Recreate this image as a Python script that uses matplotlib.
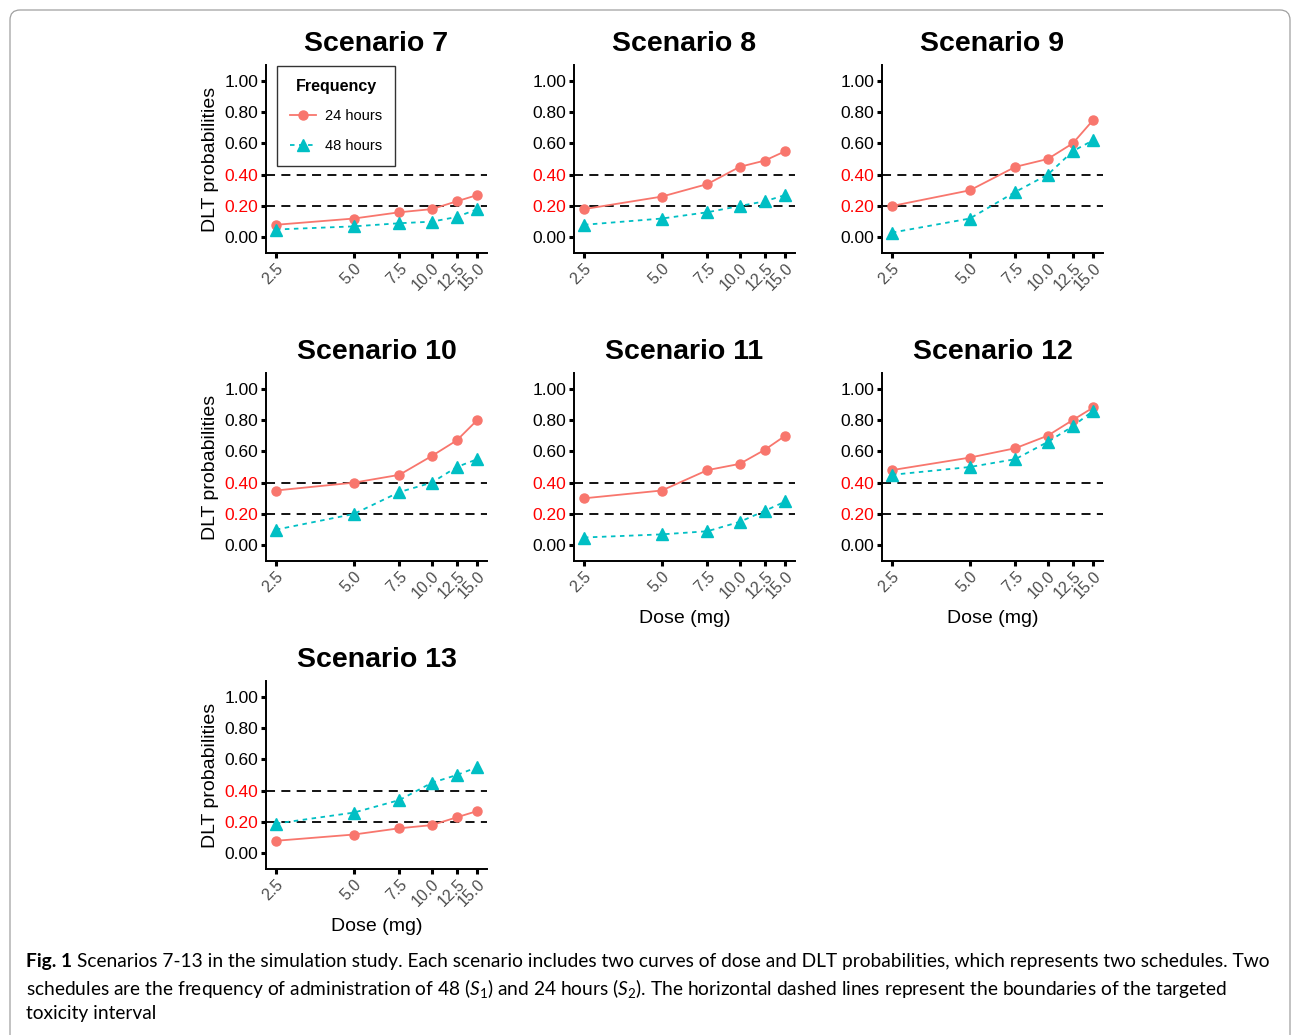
import matplotlib
matplotlib.use("Agg")
import matplotlib.pyplot as plt
from matplotlib.patches import FancyBboxPatch

plt.rcParams['font.family'] = ['Liberation Sans', 'DejaVu Sans']

# data
doses = [2.5, 5.0, 7.5, 10.0, 12.5, 15.0]
dose_labels = ['2.5', '5.0', '7.5', '10.0', '12.5', '15.0']
scenarios = [7, 8, 9, 10, 11, 12, 13]
p24 = [
    [0.08, 0.12, 0.16, 0.18, 0.23, 0.27],
    [0.18, 0.26, 0.34, 0.45, 0.49, 0.55],
    [0.20, 0.30, 0.45, 0.50, 0.60, 0.75],
    [0.35, 0.40, 0.45, 0.57, 0.67, 0.80],
    [0.30, 0.35, 0.48, 0.52, 0.61, 0.70],
    [0.48, 0.56, 0.62, 0.70, 0.80, 0.88],
    [0.08, 0.12, 0.16, 0.18, 0.23, 0.27],
]
p48 = [
    [0.05, 0.07, 0.09, 0.10, 0.13, 0.18],
    [0.08, 0.12, 0.16, 0.20, 0.23, 0.27],
    [0.03, 0.12, 0.29, 0.40, 0.55, 0.62],
    [0.10, 0.20, 0.34, 0.40, 0.50, 0.55],
    [0.05, 0.07, 0.09, 0.15, 0.22, 0.28],
    [0.45, 0.50, 0.55, 0.66, 0.76, 0.86],
    [0.19, 0.26, 0.34, 0.45, 0.50, 0.55],
]
yticks = [0.0, 0.2, 0.4, 0.6, 0.8, 1.0]
bounds = [0.2, 0.4]

W, H = 1292, 1035
fig = plt.figure(figsize=(W / 100, H / 100), dpi=100)

# border around the figure panel
fig.patches.append(FancyBboxPatch((10, -30), 1280, 1055, boxstyle="round,pad=0,rounding_size=10",
                                  transform=None, fc='none', ec='#a0a0a0', lw=0.9))

c24, c48 = '#F8766D', '#00BFC4'
ax_w, ax_h = 221, 188

for i, sc in enumerate(scenarios):
    r, c = divmod(i, 3)
    left = 266 + 308 * c
    top = 65 + 308 * r
    ax = fig.add_axes([left / W, 1 - (top + ax_h) / H, ax_w / W, ax_h / H])
    ax.set_xscale('log')
    ax.set_xlim(2.29, 16.35)
    ax.set_ylim(-0.1, 1.1)
    for b in bounds:
        ax.axhline(b, color='black', lw=1.3, dashes=(5, 3.5), zorder=1)
    ax.plot(doses, p24[i], color=c24, lw=1.3, marker='o', ms=6.5, label='24 hours', zorder=3)
    ax.plot(doses, p48[i], color=c48, lw=1.3, ls=(0, (2.5, 2.5)), marker='^', ms=8,
            label='48 hours', zorder=3)
    ax.set_xticks(doses)
    ax.xaxis.set_minor_locator(plt.NullLocator())
    ax.set_xticklabels(dose_labels, rotation=45, ha='right', va='top', rotation_mode='anchor',
                       fontsize=11.5, color='#4d4d4d')
    ax.set_yticks(yticks)
    ax.set_yticklabels(['%.2f' % v for v in yticks], fontsize=12.5)
    for v, lab, tk in zip(yticks, ax.get_yticklabels(), ax.yaxis.get_major_ticks()):
        if v in bounds:
            lab.set_color('#ff0000')
            tk.tick1line.set_color('#ff0000')
    ax.tick_params(axis='both', length=3.5, width=2.2, pad=2)
    for s in ['top', 'right']:
        ax.spines[s].set_visible(False)
    for s in ['left', 'bottom']:
        ax.spines[s].set_linewidth(1.4)
    ax.set_title('Scenario %d' % sc, fontsize=20.5, fontweight='bold', pad=10)
    if c == 0:
        ax.set_ylabel('DLT probabilities', fontsize=14, labelpad=4)
    if i >= 4:
        ax.set_xlabel('Dose (mg)', fontsize=14, labelpad=6)
    if i == 0:
        leg = ax.legend(title='Frequency', loc='upper left', bbox_to_anchor=(0.05, 0.995),
                        borderaxespad=0, fontsize=10.5,
                        title_fontproperties={'weight': 'bold', 'size': 11.5},
                        frameon=True, fancybox=False, edgecolor='black', borderpad=0.9,
                        handlelength=1.8, labelspacing=1.05, handletextpad=0.6)
        leg.get_frame().set_linewidth(1.0)

# caption, size fitted so line 1 spans the same width as in the figure
cap_font = 'Lato'
plt.rcParams['mathtext.fontset'] = 'custom'
plt.rcParams['mathtext.it'] = 'Lato:italic'
plt.rcParams['mathtext.rm'] = 'Lato'
line1 = ('Scenarios 7-13 in the simulation study. Each scenario includes two curves of dose and DLT '
         'probabilities, which represents two schedules. Two')
line2 = ('schedules are the frequency of administration of 48 ($S_1$) and 24 hours ($S_2$). The horizontal '
         'dashed lines represent the boundaries of the targeted')
line3 = 'toxicity interval'

rend = fig.canvas.get_renderer()
fs = 14
t0 = fig.text(26 / W, 1 - 962 / H, 'Fig. 1', fontsize=fs, fontweight='bold', family=cap_font, va='center')
t1 = fig.text(0, 0, line1, fontsize=fs, family=cap_font, va='center')
w0 = t0.get_window_extent(rend).width
w1 = t1.get_window_extent(rend).width
fs = fs * (1278 - 26 - 5) / (w0 + w1)
t0.set_fontsize(fs)
bb = t0.get_window_extent(rend)
t1.set_fontsize(fs)
t1.set_position(((bb.x1 + 5) / W, 1 - 962 / H))
fig.text(26 / W, 1 - 988 / H, line2, fontsize=fs, family=cap_font, va='center')
fig.text(26 / W, 1 - 1014 / H, line3, fontsize=fs, family=cap_font, va='center')

fig.savefig('out.png', dpi=100)
